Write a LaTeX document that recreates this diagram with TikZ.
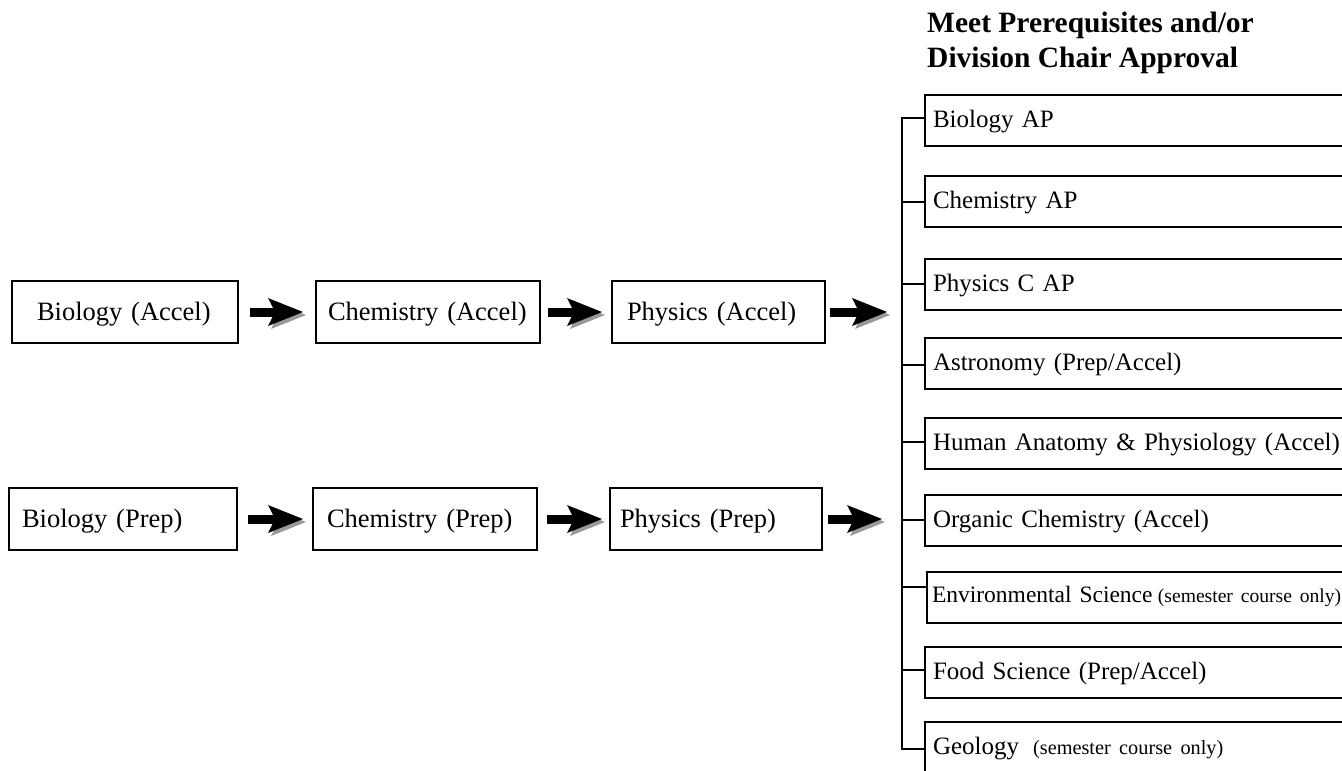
\documentclass[tikz,border=0pt]{standalone}
\usepackage{fontspec}
\setmainfont{Liberation Serif}
\usetikzlibrary{arrows.meta}
\newcommand\lfont{\fontsize{26.5}{30}\selectfont}
\newcommand\rfont{\fontsize{25}{29}\selectfont}
\newcommand\envfont{\fontsize{23.5}{28}\selectfont}
\newcommand\semfont{\fontsize{20.3}{24}\selectfont}
\newcommand\envsemfont{\fontsize{19.6}{24}\selectfont}
\newcommand\hfont{\fontsize{29.5}{35}\selectfont\bfseries}
\begin{document}
\begin{tikzpicture}[x=1pt,y=-1pt,
  lbox/.style={draw, line width=2.6pt, anchor=north west, outer sep=0pt,
    minimum height=62, inner ysep=0pt, align=left, font=\lfont,
    text height=17.5pt, text depth=0pt},
  rbox/.style={draw, line width=2.6pt, anchor=north west, outer sep=0pt,
    minimum height=51, inner ysep=0pt, text width=464pt, inner xsep=8pt,
    align=left, font=\rfont, text height=16.5pt, text depth=3.5pt},
  conn/.style={line width=2.6pt},
  bigarrow/.style={line width=9pt,
    -{Stealth[length=35pt,width=28pt,inset=7pt,line width=0pt]},
    preaction={draw=black!40, transform canvas={shift={(3pt,-3pt)}}}},
  header/.style={anchor=north west, inner sep=0pt, align=left, font=\hfont}
]
\useasboundingbox (0,0) rectangle (1342,771);

% header
\node[header] (hd) at (927,11.5) {Meet Prerequisites and/or\\Division Chair Approval};

% left chains
\node[lbox, text width=176pt, inner xsep=25pt] (ba) at (12,281) {Biology (Accel)};
\node[lbox, text width=200pt, inner xsep=12pt] (ca) at (316,281) {Chemistry (Accel)};
\node[lbox, text width=183pt, inner xsep=15pt] (pa) at (612,281) {Physics (Accel)};
\node[lbox, text width=202pt, inner xsep=13pt] (bp) at (9,488) {Biology (Prep)};
\node[lbox, text width=196pt, inner xsep=14pt] (cp) at (313,488) {Chemistry (Prep)};
\node[lbox, text width=192pt, inner xsep=10pt] (pp) at (610,488) {Physics (Prep)};

% right list
\node[rbox] (r1) at (925,95) {Biology AP};
\node[rbox] (r2) at (925,176) {Chemistry AP};
\node[rbox] (r3) at (925,259) {Physics C AP};
\node[rbox] (r4) at (925,338) {Astronomy (Prep/Accel)};
\node[rbox] (r5) at (925,418) {Human Anatomy \& Physiology (Accel)};
\node[rbox] (r6) at (925,495) {Organic Chemistry (Accel)};
\node[rbox, inner xsep=5pt, font=\envfont, text height=15.5pt, text depth=5.5pt] (r7) at (927,572) {Environmental Science\hspace{-2.5pt} {\envsemfont(semester course only)}};
\node[rbox] (r8) at (925,647) {Food Science (Prep/Accel)};
\node[rbox] (r9) at (925,722) {Geology\hspace{14pt}{\semfont(semester course only)}};

% bracket
\coordinate (st) at (902,118);
\coordinate (sb) at (902,749);
\draw[conn, line cap=rect] (st) -- (sb);
\foreach \n/\o in {r1/23,r2/26,r3/25,r4/27,r5/24,r6/25,r7/15,r8/23,r9/27}
  \draw[conn] ([yshift=-\o]\n.north west) coordinate (tk) -- (tk -| st);

% arrows
\coordinate (s1) at (902,312);
\coordinate (s2) at (902,519);
\draw[bigarrow, shorten <=12pt, shorten >=13pt] (ba) -- (ca);
\draw[bigarrow, shorten <=8pt, shorten >=10pt] (ca) -- (pa);
\draw[bigarrow, shorten <=5pt, shorten >=15pt] (pa) -- (s1);
\draw[bigarrow, shorten <=11pt, shorten >=10pt] (bp) -- (cp);
\draw[bigarrow, shorten <=10pt, shorten >=8pt] (cp) -- (pp);
\draw[bigarrow, shorten <=6pt, shorten >=20pt] (pp) -- (s2);
\end{tikzpicture}
\end{document}
